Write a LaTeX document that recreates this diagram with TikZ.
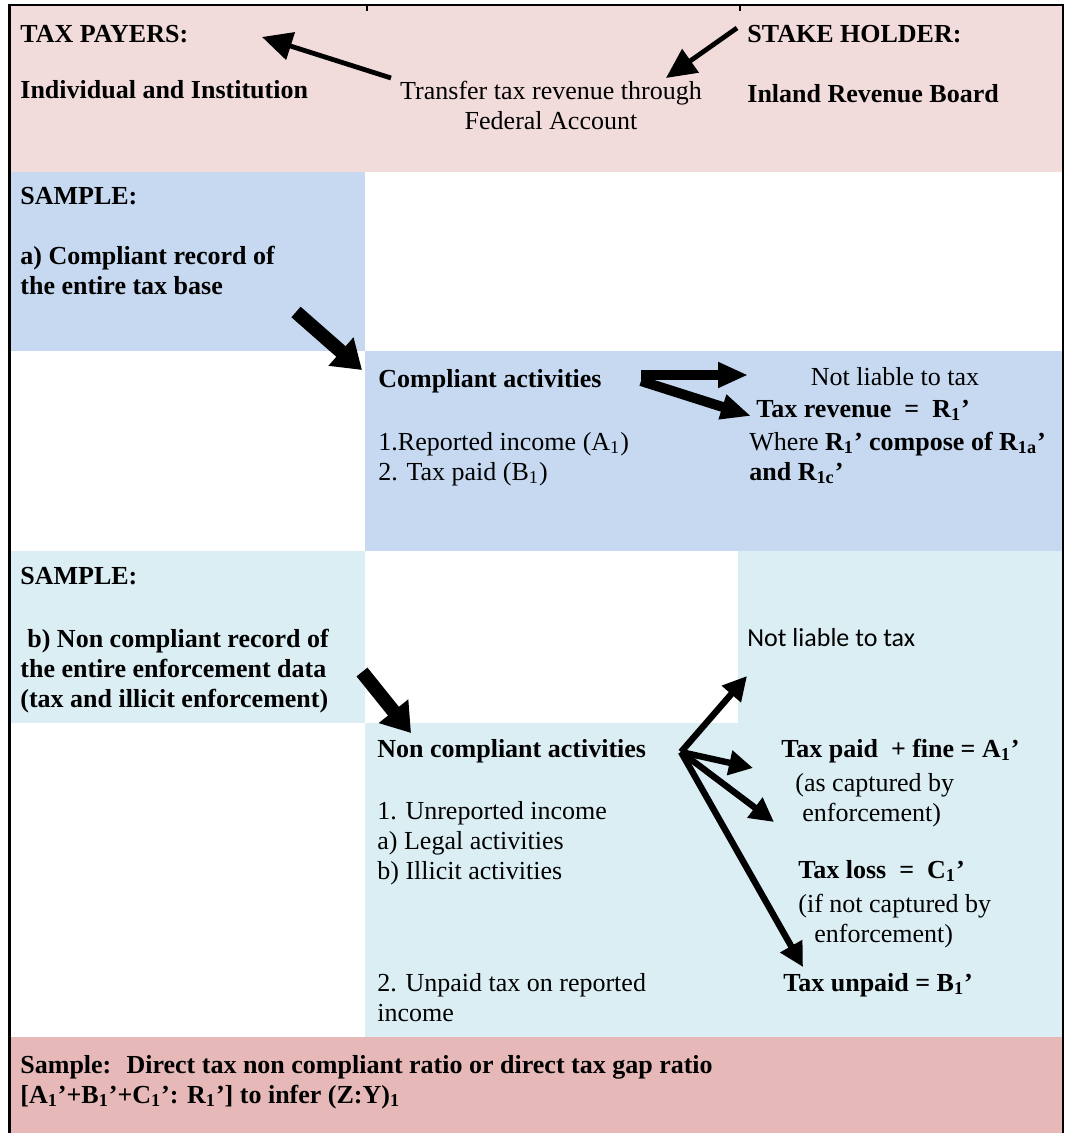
\documentclass[tikz,border=0pt]{standalone}
\usepackage{fontspec}
\setmainfont{Liberation Serif}
\newfontfamily\calibri{Carlito}
\usetikzlibrary{arrows.meta}
\definecolor{toppink}{HTML}{F2DCDB}
\definecolor{lowpink}{HTML}{E6B9B8}
\definecolor{compblue}{HTML}{C6D9F1}
\definecolor{noncyan}{HTML}{DBEEF4}
\newcommand{\sub}[1]{\textsubscript{#1}}

\begin{document}
\begin{tikzpicture}[x=0.5pt,y=-0.5pt,
	every node/.style={inner sep=0pt,font=\fontsize{13}{15}\selectfont},
	txt/.style={anchor=base west,align=left},
	ctxt/.style={anchor=base,align=center},
	bftxt/.style={txt,font=\fontsize{13}{15}\selectfont\bfseries},
	thinarr/.style={line width=2.4pt,-{Triangle[length=15pt,width=14pt]}},
	fatarr/.style={line width=5pt,-{Triangle[length=15pt,width=12pt]}},
	blockarr/.style={line width=7pt,-{Triangle[length=14pt,width=18pt]}},
	fanarr/.style={line width=3.2pt,-{Triangle[length=12pt,width=12pt]}}]
	\useasboundingbox (0,0) rectangle (1065,1133);
	% cells
	\fill[toppink] (9,5) rectangle (1063,172);
	\fill[compblue] (9,172) rectangle (365,351);
	\fill[compblue] (365,351) rectangle (1063,551);
	\fill[noncyan] (9,551) rectangle (365,723);
	\fill[noncyan] (738,551) rectangle (1063,723);
	\fill[noncyan] (365,723) rectangle (1063,1037);
	\fill[lowpink] (9,1037) rectangle (1063,1133);
	% frame
	\draw[line width=1.2pt] (9.5,1133) -- (9.5,5) -- (1063,5) -- (1063,1133);
	\draw[line width=0.6pt] (367,5) -- (367,11);
	\draw[line width=0.6pt] (740,5) -- (740,11);

	% top row (multi-line nodes sit on their last baseline)
	\node[bftxt] (taxpayers) at (20,43) {TAX PAYERS:};
	\node[bftxt] (indiv) at (20,99) {Individual and Institution};
	\node[ctxt] (transfer) at (551,130) {Transfer tax revenue through\\Federal Account};
	\node[bftxt] (stake) at (747,43) {STAKE HOLDER:};
	\node[bftxt] (irb) at (747,103) {Inland Revenue Board};

	% compliant sample
	\node[bftxt] (samplea) at (20,205) {SAMPLE:};
	\node[bftxt] (reca) at (20,295) {a) Compliant record of\\the entire tax base};
	\node[bftxt] (compliant) at (378,387) {Compliant activities};
	\node[txt] (reported) at (378,480) {1.Reported income (A\sub{1})\\2. Tax paid (B\sub{1})};
	\node[ctxt] (notliablea) at (895,386) {Not liable to tax};
	\node[bftxt] (taxrev) at (756,417) {Tax revenue \ = \ R\sub{1}’};
	\node[txt] (where) at (749,480) {Where \textbf{R\sub{1}’ compose of R\sub{1a}’}\\\textbf{and R\sub{1c}’}};

	% non compliant sample
	\node[bftxt] (sampleb) at (20,584) {SAMPLE:};
	\node[bftxt] (recb) at (20,707) {\hspace*{3.5pt}b) Non compliant record of\\the entire enforcement data\\(tax and illicit enforcement)};
	\node[txt,font=\fontsize{13}{15}\selectfont\calibri] (notliableb) at (747,646) {Not liable to tax};
	\node[bftxt] (noncomp) at (377,757) {Non compliant activities};
	\node[txt] (unrep) at (377,879) {1. Unreported income\\a) Legal activities\\b) Illicit activities};
	\node[txt] (unpaid) at (377,1021) {2. Unpaid tax on reported\\income};
	\node[bftxt] (taxpaid) at (781,757) {Tax paid \ + fine = A\sub{1}’};
	\node[txt] (captured) at (795,821) {(as captured by\\\hspace*{3.5pt}enforcement)};
	\node[bftxt] (taxloss) at (798,878) {Tax loss \ = \ C\sub{1}’};
	\node[txt] (notcaptured) at (798,942) {(if not captured by\\\hspace*{8pt}enforcement)};
	\node[bftxt] (taxunpaid) at (783,991) {Tax unpaid = B\sub{1}’};

	% ratio
	\node[bftxt] (ratio) at (20,1103) {Sample: \ Direct tax non compliant ratio or direct tax gap ratio\\{}[A\sub{1}’+B\sub{1}’+C\sub{1}’: R\sub{1}’] to infer (Z:Y)\sub{1}};

	% arrow ends
	\coordinate (tailtp) at (391,78);
	\coordinate (tiptp) at (262,37);
	\coordinate (tailsh) at (737,28);
	\coordinate (tipsh) at (666,78);
	\coordinate (taila) at (296,312);
	\coordinate (tipa) at (362,370);
	\coordinate (tailb) at (362,672);
	\coordinate (tipb) at (411,733);
	\coordinate (fork) at (641,378);
	\coordinate (fan) at (681,752);

	\draw[thinarr] (tailtp) -- (tiptp);
	\draw[thinarr] (tailsh) -- (tipsh);
	\draw[blockarr] (taila) -- (tipa);
	\draw[blockarr] (tailb) -- (tipb);
	\draw[fatarr] ([yshift=1.5pt]fork) -- (748,375);
	\draw[fatarr] ([yshift=-1.5pt]fork) -- (751,416);
	\draw[fanarr] (fan) -- (747,676);
	\draw[fanarr] (fan) -- (753,768);
	\draw[fanarr] (fan) -- (774,822);
	\draw[fanarr] (fan) -- (803,967);
\end{tikzpicture}
\end{document}
